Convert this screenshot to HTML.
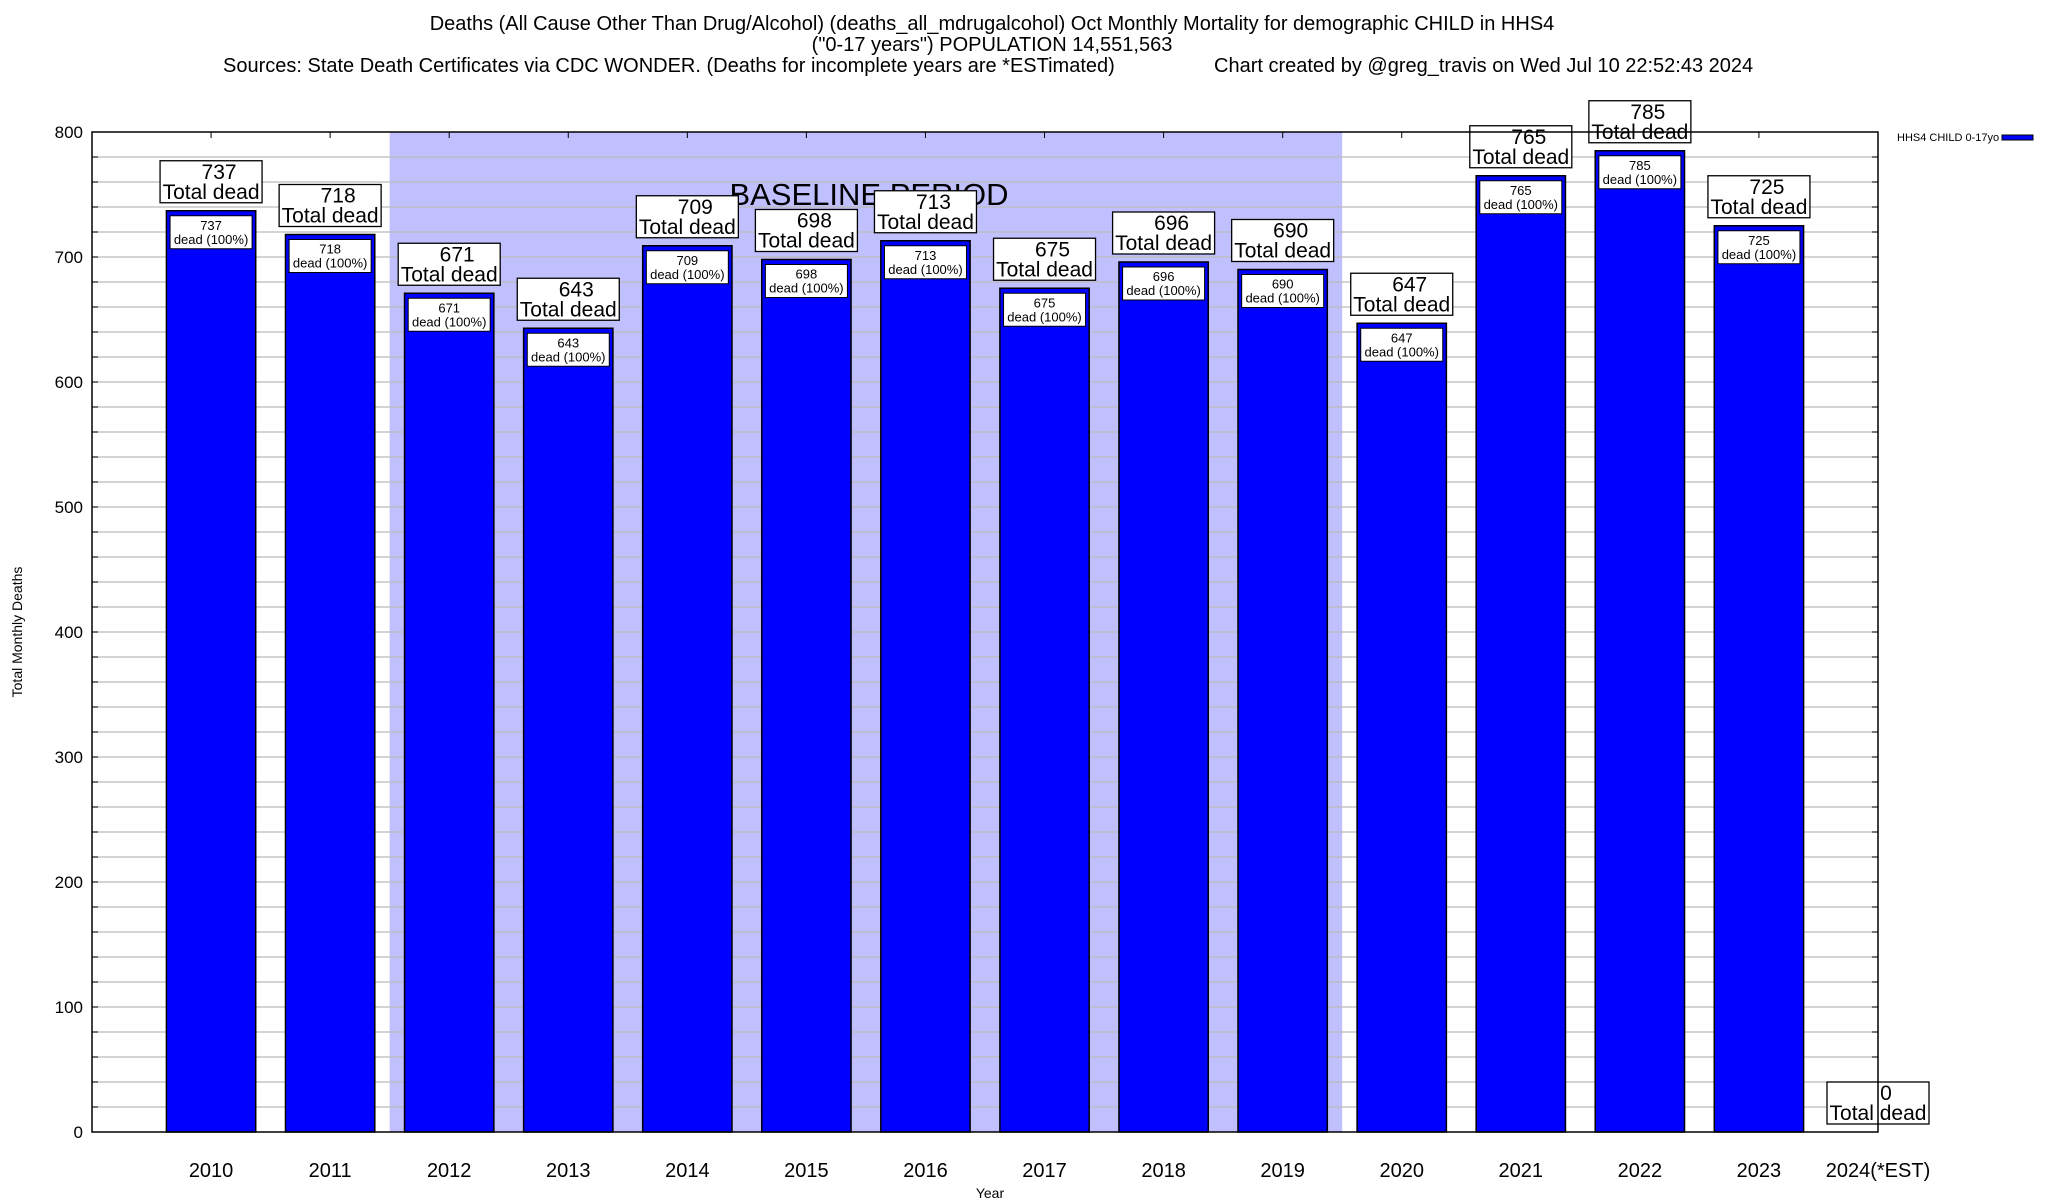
<!DOCTYPE html>
<html><head><meta charset="utf-8"><style>
html,body{margin:0;padding:0;background:#fff;}
svg{display:block;font-family:"Liberation Sans",sans-serif;}
</style></head><body>
<svg id="chart" width="2048" height="1200" viewBox="0 0 2048 1200" xmlns="http://www.w3.org/2000/svg">
<g font-size="20" fill="#000">
<text x="992" y="30" text-anchor="middle">Deaths (All Cause Other Than Drug/Alcohol) (deaths_all_mdrugalcohol) Oct Monthly Mortality for demographic CHILD in HHS4</text>
<text x="992" y="51" text-anchor="middle">("0-17 years") POPULATION 14,551,563</text>
<text x="223" y="72">Sources: State Death Certificates via CDC WONDER. (Deaths for incomplete years are *ESTimated)</text>
<text x="1214" y="72">Chart created by @greg_travis on Wed Jul 10 22:52:43 2024</text>
</g>
<g id="plot"></g>
<text x="22" y="632" font-size="14" text-anchor="middle" transform="rotate(-90 22 632)">Total Monthly Deaths</text>
<text x="990" y="1198" font-size="14" text-anchor="middle">Year</text>
<g>
<text x="1897" y="141" font-size="11">HHS4 CHILD 0-17yo</text>
<rect x="2002" y="135" width="31" height="5" fill="#0000ff" stroke="#000" stroke-width="1"/>
</g>
</svg>
<script>
const categories = ["2010","2011","2012","2013","2014","2015","2016","2017","2018","2019","2020","2021","2022","2023","2024(*EST)"];
const values = [737,718,671,643,709,698,713,675,696,690,647,765,785,725,0];
const yTicks = [0,100,200,300,400,500,600,700,800];
const baselineRange = [2, 9];

const NS = "http://www.w3.org/2000/svg";
const L = 92, R = 1878, T = 132, B = 1132;
const yMax = 800;
const step = (R - L) / 15;
function xc(i){ return L + step * (i + 1); }
function y(v){ return B - (v / yMax) * (B - T); }
const g = document.getElementById('plot');
function mk(tag, attrs, parent){
  const e = document.createElementNS(NS, tag);
  for (const k in attrs) e.setAttribute(k, attrs[k]);
  (parent || g).appendChild(e);
  return e;
}
const bl = mk('rect', {x: xc(baselineRange[0]) - step/2, y: T, width: (baselineRange[1]-baselineRange[0]+1)*step, height: B-T, fill: '#c0c0ff'});


for (let v = 20; v < yMax; v += 20) {
  const ln = mk('line', {x1: L, x2: R, y1: y(v), y2: y(v), stroke: '#bbbbbb', 'stroke-width': 1.2});
  
  
  const t1 = mk('line', {x1: L, x2: L+6, y1: y(v), y2: y(v), stroke: '#000'});
  
  
  const t2 = mk('line', {x1: R-6, x2: R, y1: y(v), y2: y(v), stroke: '#000'});
  
  
}
const btxt = mk('text', {x: 869, y: 205, 'font-size': 31, 'text-anchor': 'middle'});
btxt.textContent = 'BASELINE PERIOD';


yTicks.forEach(v => {
  const t = mk('text', {x: 83, y: y(v) + 6, 'font-size': 17, 'text-anchor': 'end'});
  t.textContent = v;
  
  
});
const bw = step * 0.75;
categories.forEach((c, i) => {
  const cx = xc(i), v = values[i];
  const tk = mk('line', {x1: cx, x2: cx, y1: T, y2: T+6, stroke: '#000'});
  
  
  const xl = mk('text', {x: cx, y: 1177, 'font-size': 20, 'text-anchor': 'middle'});
  xl.textContent = c;
  
  
  if (v > 0) {
    const bar = mk('rect', {x: cx - bw/2, y: y(v), width: bw, height: B - y(v), fill: '#0000ff', stroke: '#000', 'stroke-width': 1.5});
    
    
    const ib = mk('rect', {x: cx - 41, y: y(v) + 5, width: 82, height: 33, fill: '#fff', stroke: '#000', 'stroke-width': 1});
    
    
    const it1 = mk('text', {x: cx, y: y(v) + 19, 'font-size': 13, 'text-anchor': 'middle'});
    it1.textContent = v;
    
    
    const it2 = mk('text', {x: cx, y: y(v) + 33, 'font-size': 13, 'text-anchor': 'middle'});
    it2.textContent = 'dead (100%)';
    
    
  }
  const top = y(v) - 8;
  const ob = mk('rect', {x: cx - 51, y: top - 42, width: 102, height: 42, fill: '#fff', stroke: '#000', 'stroke-width': 1.3});
  
  
  const o1 = mk('text', {x: cx + 8, y: top - 24, 'font-size': 21, 'text-anchor': 'middle'});
  o1.textContent = v;
  
  
  const o2 = mk('text', {x: cx, y: top - 4, 'font-size': 21, 'text-anchor': 'middle'});
  o2.textContent = 'Total dead';
  
  
});
const fr = mk('rect', {x: L, y: T, width: R-L, height: B-T, fill: 'none', stroke: '#000', 'stroke-width': 1.5});


</script>
</body></html>
